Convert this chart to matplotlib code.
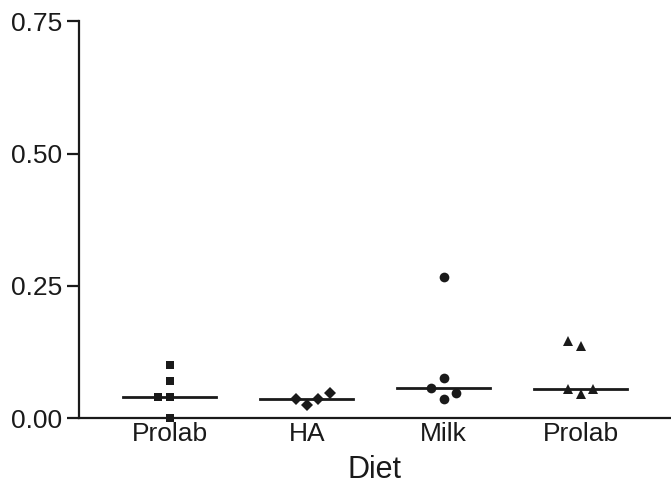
import matplotlib
matplotlib.use("Agg")
import matplotlib.pyplot as plt

plt.rcParams['font.family'] = ['Liberation Sans', 'DejaVu Sans']

# groups on the x axis
diets = ["Prolab", "HA", "Milk", "Prolab"]
markers = ["s", "D", "o", "^"]

# values
prolab1 = [0.10, 0.07, 0.04, 0.04, 0.00]
ha = [0.037, 0.025, 0.037, 0.047]
milk = [0.266, 0.076, 0.057, 0.036, 0.047]
prolab2 = [0.145, 0.136, 0.055, 0.045, 0.055]
medians = [0.04, 0.037, 0.057, 0.055]

# horizontal scatter of the points within a group
jitter1 = [0.0, 0.0, -0.088, 0.0, 0.0]
jitter_ha = [-0.08, 0.0, 0.08, 0.17]
jitter_milk = [0.0, 0.0, -0.09, 0.0, 0.09]
jitter2 = [-0.09, 0.0, -0.09, 0.0, 0.09]

groups = [prolab1, ha, milk, prolab2]
jitters = [jitter1, jitter_ha, jitter_milk, jitter2]
sizes = [6.2, 6, 7, 7.5]

fig = plt.figure(figsize=(6.71, 4.92), dpi=100)
ax = fig.add_axes([0.1177, 0.150, 0.8823, 0.807])

for i, (vals, jit) in enumerate(zip(groups, jitters)):
    x = i + 1
    xs = [x + j for j in jit]
    ax.plot(xs, vals, linestyle='none', marker=markers[i], color='#1a1a1a',
            markersize=sizes[i], markeredgewidth=0, clip_on=False, zorder=3)
    ax.plot([x - 0.34, x + 0.34], [medians[i], medians[i]], color='#1a1a1a',
            lw=2, zorder=2)

ax.set_xlim(0.336, 4.66)
ax.set_ylim(0, 0.75)
ax.set_yticks([0, 0.25, 0.5, 0.75])
ax.set_yticklabels(["0.00", "0.25", "0.50", "0.75"])
ax.set_xticks([1, 2, 3, 4])
ax.set_xticklabels(diets)
ax.set_xlabel("Diet", fontsize=22, color='#1a1a1a', labelpad=6)

for s in ['top', 'right']:
    ax.spines[s].set_visible(False)
for s in ['left', 'bottom']:
    ax.spines[s].set_linewidth(1.6)
    ax.spines[s].set_color('#1a1a1a')

ax.tick_params(axis='y', length=9, width=1.6, labelsize=19, color='#1a1a1a',
               labelcolor='#1a1a1a', pad=3)
ax.tick_params(axis='x', length=0, labelsize=19, labelcolor='#1a1a1a', pad=3)

fig.savefig("out.png", dpi=100)
